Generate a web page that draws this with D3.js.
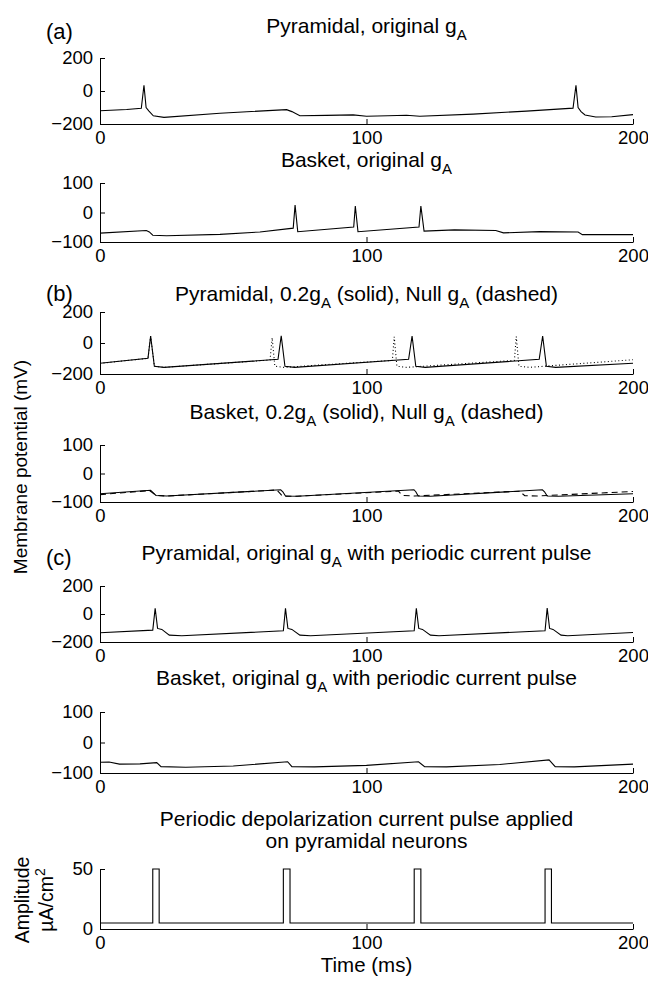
<!DOCTYPE html>
<html>
<head>
<meta charset="utf-8">
<script src="https://cdn.jsdelivr.net/npm/d3@7"></script>
<style>
    body { margin: 0; background: white; }
    text { font-family: "Liberation Sans", Arial, sans-serif; fill: black; }
</style>
</head>
<body>
<svg id="fig" width="648" height="981"></svg>
<script>
const largeur = 648, hauteur = 981;

// tick values
const timeTicks = [0, 100, 200];
const pyrTicks = [-200, 0, 200];
const basketTicks = [-100, 0, 100];
const pulseTicks = [0, 50];

// (a) original gA  -- [time ms, mV]
const pyrOriginal = [[0, -120], [10, -112], [15.5, -105], [16.5, 35], [17.3, -100], [18.3, -120], [20, -150], [24, -160], [45, -135], [70, -113], [72, -125], [75, -150], [85, -148], [95, -145], [100, -153], [108, -150], [115, -147], [120, -153], [140, -140], [160, -122], [177.5, -104], [178.6, 35], [179.4, -100], [180.5, -125], [182, -145], [186, -158], [192, -156], [200, -143]];
const basketOriginal = [[0, -70], [17.4, -61], [18.5, -66], [19.8, -77], [25, -79], [45, -74], [60, -66], [72.5, -53], [73.2, 25], [74.2, -65], [95.2, -49], [95.8, 22], [96.8, -65], [119.7, -49], [120.4, 22], [121.6, -63], [133, -59], [148.5, -61], [151.4, -69], [165, -65], [179.4, -66], [181, -75], [200, -75]];

// (b) 0.2 gA (solid) and null gA (dashed)
const pyrReduced = [[0, -131], [18, -99], [19, 45], [20.4, -150], [24, -157], [66.8, -105], [68, 47], [69.4, -150], [73, -157], [115.8, -105], [117.1, 45], [118.5, -150], [122, -157], [164.8, -105], [166.1, 45], [167.5, -150], [171, -157], [200, -131]];
const pyrNull = [[0, -131], [18, -99], [19, 45], [20.4, -150], [24, -157], [63.8, -110], [64.6, 34], [65.6, -150], [69, -157], [109.7, -112], [110.4, 40], [111.4, -150], [115, -157], [155.5, -112], [156.2, 42], [157.2, -150], [161, -157], [200, -108]];
const basketReduced = [[0, -71], [19, -59], [19.8, -66], [21, -77], [25, -79], [67.8, -57], [68.6, -64], [69.6, -79], [74, -80], [117.8, -57], [118.5, -64], [119.4, -79], [124, -80], [166, -57], [166.8, -64], [167.8, -79], [172, -80], [200, -71]];
const basketNull = [[0, -74], [18.5, -60], [19.5, -66], [21, -77], [25, -79], [66.3, -58], [67.2, -66], [68.4, -79], [73, -80], [112, -62], [112.8, -70], [113.8, -77], [118, -79], [157.6, -62], [158.4, -70], [159.4, -78], [164, -79], [200, -63]];

// (c) original gA with periodic current pulse
const pyrPulsed = [[0, -134], [19.8, -115], [20.7, 41], [21.6, -103], [23.2, -110], [26, -151], [30.7, -155], [68.8, -120], [69.6, 40], [70.5, -103], [72, -110], [75, -151], [79, -155], [117.9, -120], [118.7, 41], [119.6, -103], [121, -110], [124, -151], [127.2, -155], [167, -120], [167.8, 42], [168.7, -103], [170, -110], [173, -151], [175.5, -155], [200, -132]];
const basketPulsed = [[0, -65], [3.4, -64], [7.3, -71], [15, -70], [21.3, -66], [22.9, -79], [32.2, -81], [50, -77], [70.4, -63], [72, -79], [80.5, -80], [100, -75], [119.5, -63], [121.8, -79], [130, -80], [150, -72], [168.5, -57], [170.8, -79], [178, -80], [200, -71]];
const pulseCurrent = [[0, 5], [19.8, 5], [19.8, 50], [22.2, 50], [22.2, 5], [68.8, 5], [68.8, 50], [71.3, 50], [71.3, 5], [117.9, 5], [117.9, 50], [120.4, 50], [120.4, 5], [167, 5], [167, 50], [169.4, 50], [169.4, 5], [200, 5]];

const titles = [
    "Pyramidal, original g{A}",
    "Basket, original g{A}",
    "Pyramidal, 0.2g{A} (solid), Null g{A} (dashed)",
    "Basket, 0.2g{A} (solid), Null g{A} (dashed)",
    "Pyramidal, original g{A} with periodic current pulse",
    "Basket, original g{A} with periodic current pulse",
    "Periodic depolarization current pulse applied|on pyramidal neurons"
];

const svgSpace = d3.select("#fig");
const axeGauche = 100, axeDroit = 633;

const x = d3.scaleLinear().domain([0, 200]).range([axeGauche, axeDroit]);

const panels = [
    { top: 58, bottom: 124, ticks: pyrTicks, series: [{ d: pyrOriginal }], title: titles[0], tY: 33, lab: "(a)", labY: 39 },
    { top: 183, bottom: 242, ticks: basketTicks, series: [{ d: basketOriginal }], title: titles[1], tY: 167 },
    { top: 312, bottom: 374, ticks: pyrTicks, series: [{ d: pyrNull, dash: "1,2.5" }, { d: pyrReduced }], title: titles[2], tY: 301, lab: "(b)", labY: 301 },
    { top: 445, bottom: 502, ticks: basketTicks, series: [{ d: basketNull, dash: "6,4" }, { d: basketReduced }], title: titles[3], tY: 419 },
    { top: 586, bottom: 642, ticks: pyrTicks, series: [{ d: pyrPulsed }], title: titles[4], tY: 560, lab: "(c)", labY: 565 },
    { top: 712, bottom: 773, ticks: basketTicks, series: [{ d: basketPulsed }], title: titles[5], tY: 685 },
    { top: 869, bottom: 929, ticks: pulseTicks, series: [{ d: pulseCurrent }], title: titles[6], tY: 826 }
];

const fmt = (d) => d < 0 ? "\u2212" + Math.abs(d) : String(d);

function addTitle(str, cx, cy) {
    str.split("|").forEach((ligne, k) => {
        const t = svgSpace.append("text")
            .attr("x", cx)
            .attr("y", cy + k * 22)
            .attr("text-anchor", "middle")
            .style("font-size", "21px");
        const parts = ligne.split("{A}");
        parts.forEach((p, i) => {
            t.append("tspan").text(p).attr("dy", i > 0 ? -7 : 0);
            if (i < parts.length - 1) {
                t.append("tspan").text("A").style("font-size", "15px").attr("dy", 7);
            }
        });
    });
}

panels.forEach((p) => {
    const y = d3.scaleLinear()
        .domain([p.ticks[0], p.ticks[p.ticks.length - 1]])
        .range([p.bottom, p.top]);

    const line = d3.line().x((d) => x(d[0])).y((d) => y(d[1]));

    p.series.forEach((s) => {
        svgSpace.append("path")
            .datum(s.d)
            .attr("d", line)
            .attr("fill", "none")
            .attr("stroke", "black")
            .attr("stroke-width", 1.1)
            .attr("stroke-dasharray", s.dash || null);
    });

    const gY = svgSpace.append("g")
        .attr("transform", "translate(" + axeGauche + ",0)")
        .call(d3.axisLeft(y).tickValues(p.ticks).tickFormat(fmt).tickSizeInner(-5).tickSizeOuter(0).tickPadding(7));

    const gX = svgSpace.append("g")
        .attr("transform", "translate(0," + p.bottom + ")")
        .call(d3.axisBottom(x).tickValues(timeTicks).tickFormat(fmt).tickSizeInner(-5).tickSizeOuter(0).tickPadding(7));

    [gX, gY].forEach((g) => {
        g.attr("font-size", 18.5).attr("font-family", null);
        g.selectAll("path, line").attr("stroke", "black").attr("stroke-width", 1);
    });

    addTitle(p.title, (axeGauche + axeDroit) / 2, p.tY);

    if (p.lab) {
        svgSpace.append("text")
            .text(p.lab)
            .attr("x", 46)
            .attr("y", p.labY)
            .style("font-size", "22px");
    }
});

// axis labels
svgSpace.append("text")
    .text("Membrane potential (mV)")
    .attr("transform", "translate(27,467) rotate(-90)")
    .attr("text-anchor", "middle")
    .style("font-size", "19px");

svgSpace.append("text")
    .text("Amplitude")
    .attr("transform", "translate(29,900) rotate(-90)")
    .attr("text-anchor", "middle")
    .style("font-size", "19.5px");

const uniteTxt = svgSpace.append("text")
    .attr("transform", "translate(53,900) rotate(-90)")
    .attr("text-anchor", "middle")
    .style("font-size", "19.5px");
uniteTxt.append("tspan").text("\u00b5A/cm");
uniteTxt.append("tspan").text("2").style("font-size", "14px").attr("dy", -8);

svgSpace.append("text")
    .text("Time (ms)")
    .attr("x", (axeGauche + axeDroit) / 2)
    .attr("y", 972)
    .attr("text-anchor", "middle")
    .style("font-size", "20.5px");
</script>
</body>
</html>
